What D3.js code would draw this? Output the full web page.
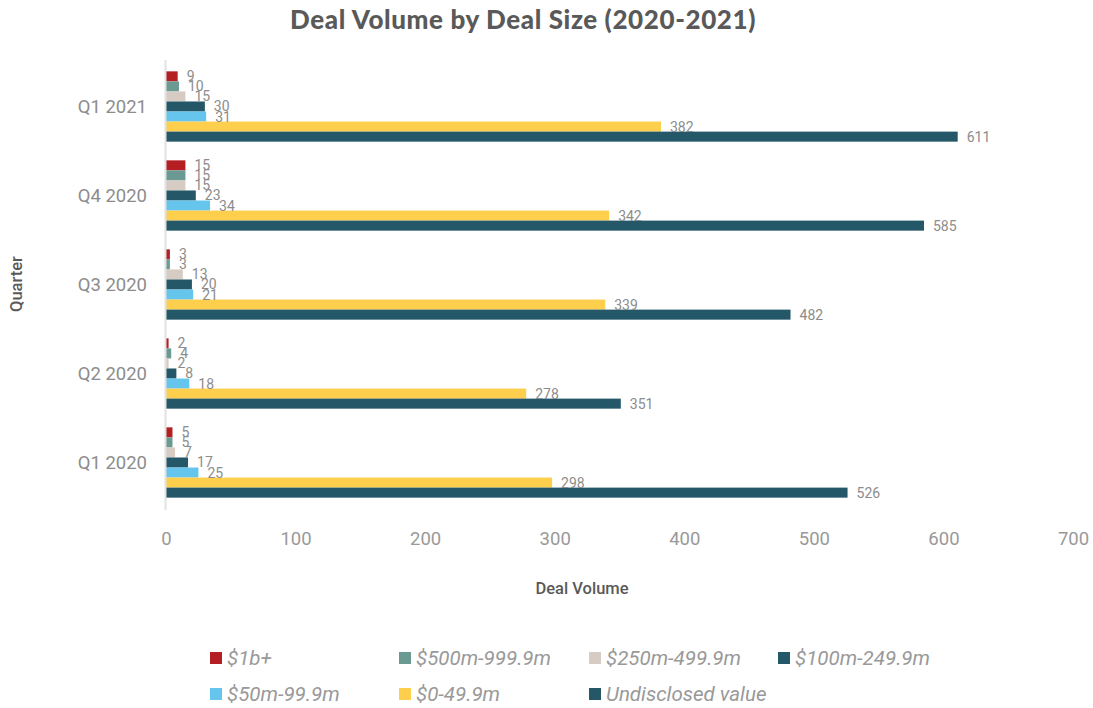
<!DOCTYPE html>
<html>
<head>
<meta charset="utf-8">
<script src="https://cdn.jsdelivr.net/npm/d3@7"></script>
<style>
  body { margin: 0; background: #fff; }
  text { font-family: Roboto, "Noto Sans", sans-serif; }
</style>
</head>
<body>
<svg width="1093" height="708"></svg>
<script>
// quarters, top to bottom
const quarters = ["Q1 2021", "Q4 2020", "Q3 2020", "Q2 2020", "Q1 2020"]

const series = ["$1b+", "$500m-999.9m", "$250m-499.9m", "$100m-249.9m",
                "$50m-99.9m", "$0-49.9m", "Undisclosed value"]
const colors = ["#b41f24", "#6a9a92", "#d6ccc4", "#245868",
                "#66c5ec", "#fdcf4c", "#245868"]

// values per series, same order as quarters
const v1b    = [9, 15, 3, 2, 5]
const v500m  = [10, 15, 3, 4, 5]
const v250m  = [15, 15, 13, 2, 7]
const v100m  = [30, 23, 20, 8, 17]
const v50m   = [31, 34, 21, 18, 25]
const v0     = [382, 342, 339, 278, 298]
const vUndis = [611, 585, 482, 351, 526]
const values = [v1b, v500m, v250m, v100m, v50m, v0, vUndis]

const xTicks = [0, 100, 200, 300, 400, 500, 600, 700]

const svg = d3.select("svg")

const x = d3.scaleLinear().domain([0, 700]).range([166, 1073])
const y = d3.scaleBand().domain(quarters).range([62, 507])
  .paddingInner(0.21).paddingOuter(0.105)
const y1 = d3.scaleBand().domain(series).range([0, y.bandwidth()])

// title
svg.append("text")
  .attr("x", 523).attr("y", 29)
  .attr("text-anchor", "middle")
  .attr("font-size", "26px").attr("font-weight", 900)
  .attr("fill", "#595959")
  .style("font-family", "Lato, sans-serif")
  .style("letter-spacing", "0.6px")
  .text("Deal Volume by Deal Size (2020-2021)")

// bars
const groups = svg.selectAll("g.grp")
  .data(quarters).enter()
  .append("g")
  .attr("transform", d => "translate(0," + y(d) + ")")

const cells = groups.selectAll("g.cell")
  .data((q, qi) => series.map((s, si) => ({s: s, si: si, v: values[si][qi]})))
  .enter()

cells.append("rect")
  .attr("x", x(0))
  .attr("y", d => y1(d.s))
  .attr("width", d => x(d.v) - x(0))
  .attr("height", y1.bandwidth())
  .attr("fill", d => colors[d.si])

cells.append("text")
  .attr("x", d => x(d.v) + 9)
  .attr("y", d => y1(d.s) + y1.bandwidth() / 2 + 5)
  .attr("font-size", "14px")
  .attr("fill", "#8c8c8c")
  .text(d => d.v)

// y axis line
svg.append("line")
  .attr("x1", x(0) - 0.5).attr("x2", x(0) - 0.5)
  .attr("y1", 60).attr("y2", 510)
  .attr("stroke", "#e2e2e2").attr("stroke-width", 2)

// quarter labels
svg.selectAll("text.q")
  .data(quarters).enter()
  .append("text")
  .attr("x", 147)
  .attr("y", d => y(d) + y.bandwidth() / 2 + 6)
  .attr("text-anchor", "end")
  .attr("font-size", "18.5px")
  .attr("fill", "#8c8c8c")
  .text(d => d)

// x tick labels
const xAxis = d3.axisBottom(x).tickValues(xTicks).tickSize(0).tickPadding(0)
const gx = svg.append("g").attr("transform", "translate(0,532)").call(xAxis)
gx.select(".domain").remove()
gx.selectAll("text")
  .attr("font-size", "18.5px")
  .attr("fill", "#999")
  .style("font-family", "Roboto, sans-serif")

// axis titles
svg.append("text")
  .attr("x", 582).attr("y", 594)
  .attr("text-anchor", "middle")
  .attr("font-size", "16.5px").attr("font-weight", 500)
  .attr("fill", "#595959")
  .text("Deal Volume")

svg.append("text")
  .attr("transform", "translate(22,284) rotate(-90)")
  .attr("text-anchor", "middle")
  .attr("font-size", "16.5px").attr("font-weight", 500)
  .attr("fill", "#595959")
  .text("Quarter")

// legend
const legX = [210, 399, 589, 778]
const leg = svg.selectAll("g.leg")
  .data(series).enter()
  .append("g")
  .attr("transform", (d, i) => "translate(" + legX[i % 4] + "," + (652 + Math.floor(i / 4) * 36) + ")")

leg.append("rect")
  .attr("width", 12).attr("height", 12)
  .attr("fill", (d, i) => colors[i])

leg.append("text")
  .attr("x", 17).attr("y", 13)
  .attr("font-size", "20.5px")
  .attr("font-style", "italic")
  .attr("fill", "#999")
  .text(d => d)
</script>
</body>
</html>
